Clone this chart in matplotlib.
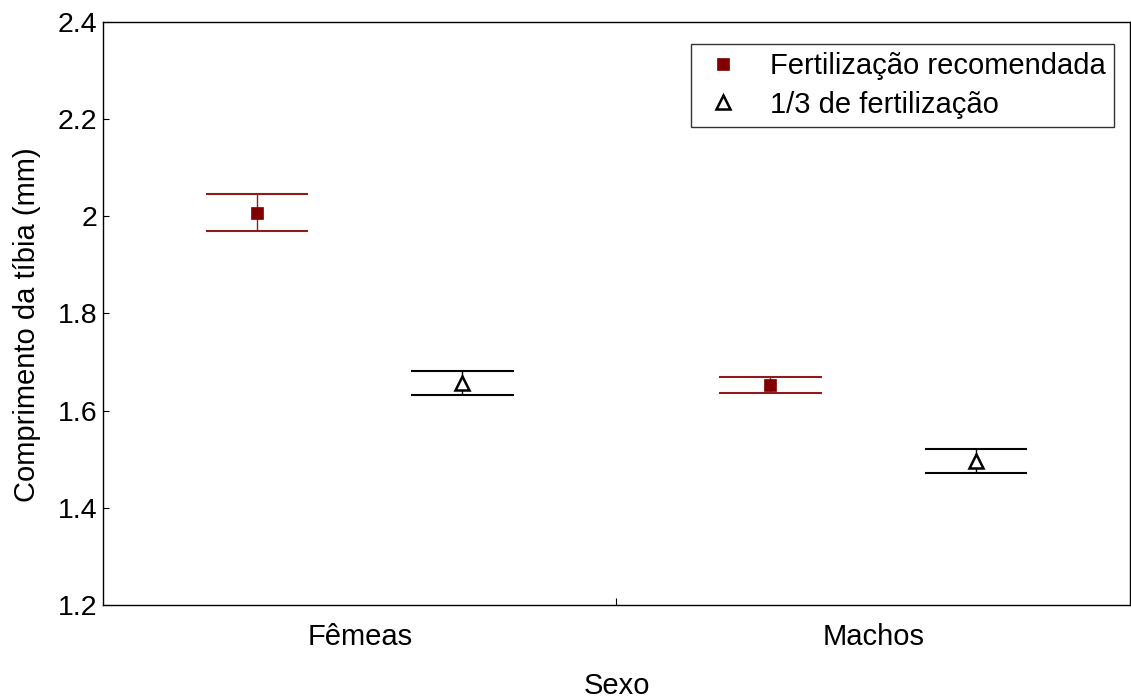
import numpy as np
import matplotlib
matplotlib.use("Agg")
from matplotlib import pyplot as plt

plt.rcParams['font.family'] = ['Liberation Sans', 'DejaVu Sans']

grupos = ["Fêmeas", "Machos"]
series = ["Fertilização recomendada", "1/3 de fertilização"]
# media, limite inferior e superior
medias = [[2.006, 1.653], [1.657, 1.496]]
inferior = [[1.970, 1.637], [1.633, 1.471]]
superior = [[2.045, 1.670], [1.682, 1.521]]

cores_linha = ["#8e1c1c", "black"]
marcadores = ["s", "^"]
faces = ["#800000", "white"]
desloc = [-0.2, 0.2]
meia_largura = 0.1

fig = plt.figure(figsize=(11.31, 7.0), dpi=100)
ax = fig.add_axes([0.0911, 0.1357, 0.9079, 0.8329])

xc = np.arange(len(grupos)) + 0.5
for i in range(len(series)):
    x = xc + desloc[i]
    m = np.array(medias[i])
    lo = np.array(inferior[i])
    hi = np.array(superior[i])
    ax.vlines(x, lo, hi, color=cores_linha[i], lw=1.0, zorder=2)
    ax.hlines(lo, x - meia_largura, x + meia_largura, color=cores_linha[i], lw=1.5, zorder=2)
    ax.hlines(hi, x - meia_largura, x + meia_largura, color=cores_linha[i], lw=1.5, zorder=2)
    ax.plot(x, m, ls="none", marker=marcadores[i], ms=9 if i == 0 else 9.5,
            mfc=faces[i], mec=faces[i] if i == 0 else "black", mew=1.8 if i == 1 else 0.5,
            label=series[i], zorder=3)

ax.set_xlim(0, 2)
ax.set_ylim(1.2, 2.4)
ax.set_yticks([1.2, 1.4, 1.6, 1.8, 2.0, 2.2, 2.4])
ax.set_yticklabels(["1.2", "1.4", "1.6", "1.8", "2", "2.2", "2.4"])
ax.set_xticks(xc)
ax.set_xticklabels(grupos)
ax.set_xticks([1.0], minor=True)
ax.tick_params(axis="x", which="major", length=0, pad=13, labelsize=21)
ax.tick_params(axis="x", which="minor", direction="in", length=5, width=0.8)
ax.tick_params(axis="y", direction="in", length=4, width=0.8, labelsize=20.5, pad=4)
for s in ax.spines.values():
    s.set_linewidth(1.0)

ax.set_ylabel("Comprimento da tíbia (mm)", fontsize=21)
ax.yaxis.set_label_coords(-0.060, 0.48)
ax.set_xlabel("Sexo", fontsize=21, labelpad=15)

leg = ax.legend(loc="upper right", bbox_to_anchor=(0.985, 0.963), borderaxespad=0,
                fontsize=21, frameon=True, fancybox=False, edgecolor="black",
                borderpad=0.3, handletextpad=0.8, labelspacing=0.35, handlelength=1.6)
leg.get_frame().set_linewidth(1.0)

fig.savefig("out.png", dpi=100)
